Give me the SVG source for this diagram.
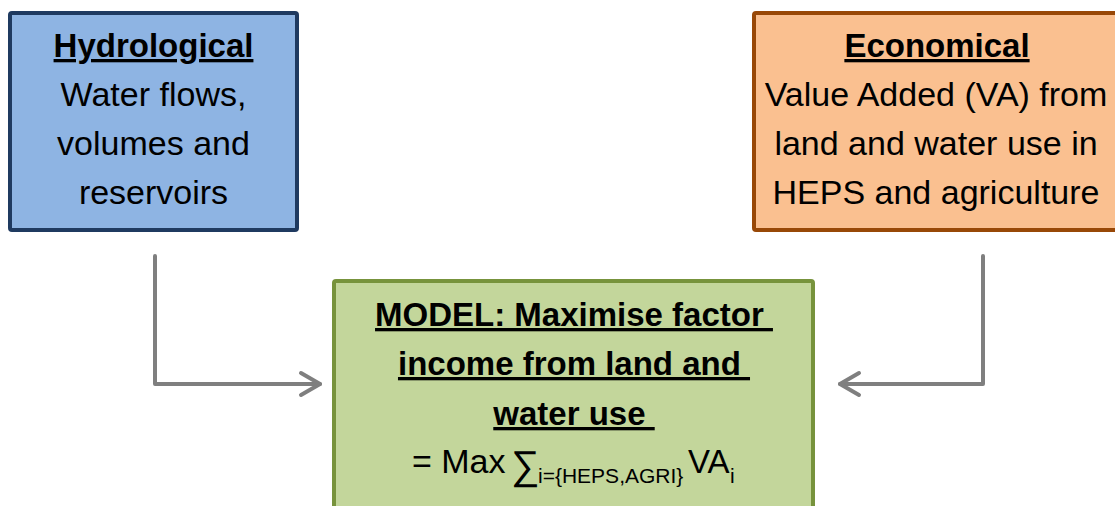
<svg xmlns="http://www.w3.org/2000/svg" width="1115" height="506" viewBox="0 0 1115 506">
<style>
text{font-family:"Liberation Sans",Arial,sans-serif;fill:#000;text-anchor:middle}
.h{font-weight:bold;font-size:33px;text-decoration:underline}
.b{font-size:34px}
.conn{fill:none;stroke:#7F7F7F;stroke-width:4;stroke-linecap:round;stroke-linejoin:round}
</style>
<defs>
<marker id="chev" markerUnits="userSpaceOnUse" viewBox="-24 -15 28 30" refX="0" refY="0" markerWidth="28" markerHeight="30" orient="auto">
<path d="M-19,-11 L0,0 L-19,11" fill="none" stroke="#7F7F7F" stroke-width="4" stroke-linecap="round" stroke-linejoin="round"/>
</marker>
</defs>
<rect width="1115" height="506" fill="#fff"/>
<g id="connectors">
<path class="conn" d="M155,256 V384 H320" marker-end="url(#chev)"/>
<path class="conn" d="M983,256 V384 H840" marker-end="url(#chev)"/>
</g>
<g id="hydrological">
<rect x="10" y="13" width="287" height="217" rx="2" fill="#8EB4E3" stroke="#1F3A60" stroke-width="4"/>
<text class="h" x="153.5" y="57">Hydrological</text>
<text class="b" x="153.5" y="106">Water flows,</text>
<text class="b" x="153.5" y="155">volumes and</text>
<text class="b" x="153.5" y="204">reservoirs</text>
</g>
<g id="economical">
<rect x="754" y="13" width="380" height="217" rx="2" fill="#FAC090" stroke="#984807" stroke-width="4"/>
<text class="h" x="937" y="57">Economical</text>
<text class="b" x="936" y="106">Value Added (VA) from</text>
<text class="b" x="936" y="155">land and water use in</text>
<text class="b" x="936" y="204">HEPS and agriculture</text>
</g>
<g id="model">
<rect x="334" y="281" width="479" height="240" rx="2" fill="#C3D69B" stroke="#77933C" stroke-width="4"/>
<text class="h" x="574" y="326" xml:space="preserve">MODEL: Maximise factor </text>
<text class="h" x="574" y="375" xml:space="preserve">income from land and </text>
<text class="h" x="574" y="425" xml:space="preserve">water use </text>
<text style="text-anchor:start"><tspan x="412" y="473" font-size="34">= Max</tspan><tspan x="511" y="479" font-size="40">∑</tspan><tspan x="538" y="483" font-size="21">i={HEPS,AGRI}</tspan><tspan x="688" y="473" font-size="33">VA</tspan><tspan x="730" y="483" font-size="21">i</tspan></text>
</g>
</svg>
